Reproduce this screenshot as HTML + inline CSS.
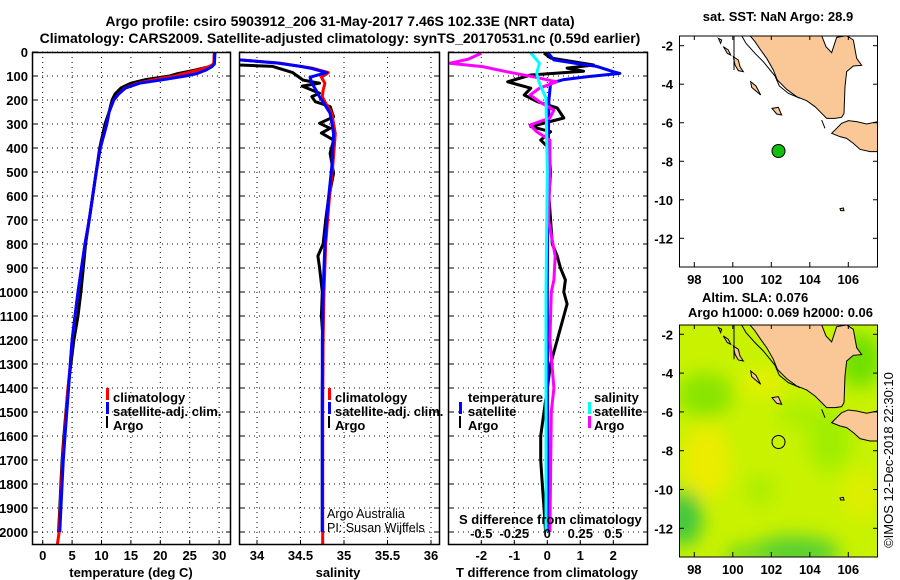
<!DOCTYPE html>
<html><head><meta charset="utf-8">
<style>
html,body{margin:0;padding:0;background:#fff;}
svg{display:block;font-family:"Liberation Sans",sans-serif;}
.b{font-weight:bold;font-size:13px;fill:#000;}
.t{font-weight:bold;font-size:14px;fill:#000;}
</style></head>
<body>
<svg id="chart" width="900" height="580" viewBox="0 0 900 580">
<defs>
<clipPath id="c1"><rect x="32" y="52" width="199" height="493"/></clipPath>
<clipPath id="c2"><rect x="239" y="52" width="201" height="493"/></clipPath>
<clipPath id="c3"><rect x="448" y="52" width="200" height="493"/></clipPath>
<clipPath id="cm1"><rect x="679" y="36" width="199" height="231"/></clipPath>
<clipPath id="cm2"><rect x="679" y="325" width="199" height="232"/></clipPath>
<filter id="blur" x="-50%" y="-50%" width="200%" height="200%"><feGaussianBlur stdDeviation="9"/></filter>
</defs>
<text class="t" x="340" y="26" text-anchor="middle">Argo profile: csiro 5903912_206 31-May-2017 7.46S 102.33E (NRT data)</text>
<text class="t" x="340" y="43" text-anchor="middle">Climatology: CARS2009. Satellite-adjusted climatology: synTS_20170531.nc (0.59d earlier)</text>
<g id="grid"></g>
<g id="series"></g>
<g id="axes"></g>

<g>
<rect x="106" y="388" width="3" height="12" fill="#f00"/><text class="b" x="113" y="402">climatology</text>
<rect x="106" y="402" width="3" height="12" fill="#00f"/><text class="b" x="113" y="416">satellite-adj. clim.</text>
<rect x="106" y="416" width="2" height="12" fill="#000"/><text class="b" x="113" y="430">Argo</text>
</g>
<g>
<rect x="328" y="388" width="3" height="12" fill="#f00"/><text class="b" x="335" y="402">climatology</text>
<rect x="328" y="402" width="3" height="12" fill="#00f"/><text class="b" x="335" y="416">satellite-adj. clim.</text>
<rect x="328" y="416" width="2" height="12" fill="#000"/><text class="b" x="335" y="430">Argo</text>
<text x="327" y="518" font-size="12.5">Argo Australia</text>
<text x="327" y="532" font-size="12.5">PI: Susan Wijffels</text>
</g>
<g>
<text class="b" x="468" y="402">temperature</text>
<rect x="459" y="402" width="3" height="12" fill="#00f"/><text class="b" x="468" y="416">satellite</text>
<rect x="459" y="416" width="2" height="12" fill="#000"/><text class="b" x="468" y="430">Argo</text>
<text class="b" x="594" y="402">salinity</text>
<rect x="588" y="402" width="3" height="12" fill="#0ff"/><text class="b" x="594" y="416">satellite</text>
<rect x="588" y="416" width="3" height="12" fill="#f0f"/><text class="b" x="594" y="430">Argo</text>
<text class="b" x="459" y="524">S difference from climatology</text>
</g>

<text class="b" x="131" y="577" text-anchor="middle">temperature (deg C)</text>
<text class="b" x="338" y="577" text-anchor="middle">salinity</text>
<text class="b" x="547" y="577" text-anchor="middle">T difference from climatology</text>

<text class="b" x="778" y="21" text-anchor="middle">sat. SST: NaN Argo: 28.9</text>
<g clip-path="url(#cm1)">
<rect x="679" y="36" width="199" height="231" fill="#fff"/>
<g transform="translate(640,0) scale(0.33333)" id="landTop"></g>
</g>
<circle cx="778.5" cy="151" r="6.5" fill="#10c010" stroke="#000" stroke-width="1"/>
<rect x="679.5" y="36" width="198" height="231" fill="none" stroke="#000"/>

<text class="b" x="702" y="302">Altim. SLA: 0.076</text>
<text class="b" x="688" y="317">Argo h1000: 0.069 h2000: 0.06</text>
<g clip-path="url(#cm2)">
<rect x="679" y="325" width="199" height="232" fill="#c8f200"/>
<g filter="url(#blur)">
<ellipse cx="705" cy="395" rx="28" ry="22" fill="#88e400"/>
<ellipse cx="706" cy="462" rx="24" ry="38" fill="#ecec00"/>
<ellipse cx="684" cy="518" rx="18" ry="28" fill="#40c840"/>
<ellipse cx="795" cy="552" rx="45" ry="16" fill="#58d030"/>
<ellipse cx="745" cy="555" rx="20" ry="10" fill="#70d820"/>
<ellipse cx="830" cy="440" rx="22" ry="32" fill="#a0ee00"/>
<ellipse cx="763" cy="383" rx="22" ry="14" fill="#e4f000"/>
<ellipse cx="860" cy="360" rx="22" ry="28" fill="#70e000"/>
<ellipse cx="760" cy="490" rx="14" ry="14" fill="#a8ee00"/>
<ellipse cx="860" cy="495" rx="16" ry="25" fill="#e0ee00"/>
<ellipse cx="800" cy="415" rx="22" ry="12" fill="#a8ee00"/>
</g>
<g transform="translate(640,289.3) scale(0.33333)" id="landBot"></g>
</g>
<circle cx="778.5" cy="442" r="6.5" fill="none" stroke="#000" stroke-width="1"/>
<rect x="679.5" y="325" width="198" height="232" fill="none" stroke="#000"/>
<g id="mapaxes"></g>
<text x="893" y="460" font-size="13" text-anchor="middle" transform="rotate(-90 893 460)">©IMOS 12-Dec-2018 22:30:10</text>
</svg>
<script>
const depthTicks = [0,100,200,300,400,500,600,700,800,900,1000,1100,1200,1300,1400,1500,1600,1700,1800,1900,2000];
const tempTicks = [0,5,10,15,20,25,30];
const salTicks = [34,34.5,35,35.5,36];
const salTickLabels = ["34","34.5","35","35.5","36"];
const tdiffTicks = [-2,-1,0,1,2];
const sdiffTicks = [-0.5,-0.25,0,0.25,0.5];
const sdiffTickLabels = ["-0.5","-0.25","0","0.25","0.5"];

const climTDepth = [0,50,61,75,90,100,115,130,150,175,200,250,300,400,500,600,700,800,900,1000,1100,1200,1300,1400,1500,1600,1700,1800,1900,2000,2050];
const climT = [29.2,29.1,28.3,26.5,24,22.5,19,16.2,14,12.9,12.1,11.3,10.9,9.8,9.1,8.5,7.9,7.2,6.6,6.0,5.5,5.0,4.7,4.3,4.0,3.7,3.4,3.2,3.0,2.8,2.5];
const satTDepth = [0,50,61,75,90,100,115,130,150,175,200,250,300,400,500,600,700,800,900,1000,1100,1200,1300,1400,1500,1600,1700,1800,1900,2000];
const satT = [29.3,29.2,28.8,27.8,26.2,24.3,20.5,16.5,14.1,12.9,12.1,11.3,10.9,9.8,9.1,8.5,7.9,7.2,6.6,6.0,5.5,5.0,4.7,4.4,4.1,3.8,3.5,3.3,3.1,2.9];
const argoTDepth = [0,50,61,75,90,100,115,130,150,175,200,250,300,400,500,600,700,800,900,1000,1100,1200,1300,1400,1500,1600,1700,1800,1900,2000];
const argoT = [29.2,29.1,28.4,26.0,23,21.6,17.5,15.0,13.3,12.3,11.8,11.3,10.6,9.7,9.1,8.5,7.9,7.3,6.9,6.5,6.0,5.3,4.8,4.3,3.95,3.6,3.3,3.1,2.9,2.7];

const climSDepth = [0,33,46,60,67,86,105,130,160,187,220,255,340,478,617,800,1000,1200,1500,2000,2050];
const climS = [33.7,33.8,34.25,34.5,34.63,34.82,34.74,34.78,34.76,34.75,34.8,34.86,34.9,34.87,34.83,34.79,34.77,34.76,34.755,34.755,34.755];
const satSDepth = [0,33,46,60,67,86,105,130,160,187,220,255,340,478,617,800,1000,1200,1500,2000];
const satS = [33.7,33.8,34.23,34.5,34.61,34.8,34.61,34.63,34.68,34.72,34.78,34.84,34.88,34.86,34.82,34.78,34.76,34.75,34.75,34.75];
const argoSDepth = [46,54,60,86,117,130,142,172,186,207,227,270,297,318,338,367,422,505,617,700,800,850,900,1000,1100,1200,1400,1600,1800,2000];
const argoS = [33.7,33.8,34.18,34.41,34.53,34.72,34.52,34.72,34.63,34.67,34.84,34.88,34.72,34.84,34.74,34.88,34.84,34.88,34.82,34.79,34.76,34.7,34.72,34.75,34.74,34.76,34.75,34.75,34.75,34.75];

const satTDiffDepth = [0,33,46,60,82,89,103,115,130,200,500,1000,2000];
const satTDiff = [0,0.2,0.8,1.5,2.0,2.2,1.2,0.5,0.1,0.05,0.02,0.0,0.02];
const argoTDiffDepth = [4,25,54,67,80,96,124,151,179,207,233,275,311,332,367,400,500,600,700,800,850,900,950,1000,1050,1100,1200,1300,1400,1500,1600,1700,1800,1900,2000];
const argoTDiff = [-0.1,0.1,1.4,0.6,1.1,-0.5,-1.2,-0.5,-0.7,-0.3,0.3,0.5,-0.5,0.1,-0.2,0.05,0.1,0.05,0.1,0.15,0.3,0.4,0.55,0.5,0.6,0.5,0.3,0.1,0.0,-0.1,-0.2,-0.2,-0.15,-0.1,-0.05];
const argoSDiffDepth = [5,30,47,61,82,103,124,151,179,207,242,275,304,332,367,500,700,850,950,1000,1200,1400,1500,2000];
const argoSDiff = [-0.5,-0.6,-0.74,-0.49,-0.31,-0.11,0.07,-0.06,-0.13,-0.06,0.05,0.02,-0.13,-0.08,0.02,0.02,0.01,0.06,0.05,0.03,0.02,0.05,0.03,0.02];
const satSDiffDepth = [0,47,89,130,193,500,1000,2000];
const satSDiff = [-0.13,-0.06,-0.08,-0.06,-0.01,0,-0.01,-0.01];

const mapLonTicks = [98,100,102,104,106];
const mapLatTicks = [-2,-4,-6,-8,-10,-12];

const yD = d => 52 + d*0.24;
const xT = t => 42.7 + t*5.88;
const xS = s => 257 + (s-34)*87;
const xTd = v => 547.3 + v*33;
const xSd = v => 547.3 + v*132;
const mx = lon => 694.3 + (lon-98)*19.25;
const myTop = lat => 45.7 + (-2-lat)*19.26;
const myBot = lat => 334.3 + (-2-lat)*19.4;

const NS = "http://www.w3.org/2000/svg";
function mk(tag, attrs, parent){ const e=document.createElementNS(NS,tag); for(const k in attrs) e.setAttribute(k,attrs[k]); parent.appendChild(e); return e; }

const grid = document.getElementById('grid');
const axes = document.getElementById('axes');
const series = document.getElementById('series');
const panels = [[32,231],[239,440],[448,648]];

panels.forEach(([l,r])=>{
  depthTicks.forEach(d=>{
    const g = mk('line',{x1:l,x2:r,y1:yD(d),y2:yD(d),stroke:'#000','stroke-width':1,'stroke-dasharray':'1 4'},grid);
    
    
  });
});
function vgrid(vals, f){ vals.forEach(v=>{ const g=mk('line',{x1:f(v),x2:f(v),y1:52,y2:545,stroke:'#000','stroke-width':1,'stroke-dasharray':'1 4'},grid);
  
   }); }
vgrid(tempTicks,xT); vgrid(salTicks.filter(s=>xS(s)<440),xS); vgrid(tdiffTicks,xTd);

function line(depths, vals, f, color, clip, name, w){
  let d='';
  depths.forEach((dp,i)=>{ d += (i?'L':'M') + f(vals[i]).toFixed(1)+','+yD(dp).toFixed(1); });
  const p = mk('path',{d:d,fill:'none',stroke:color,'stroke-width':w||3,'stroke-linejoin':'round','clip-path':'url(#'+clip+')'},series);
  
  
}
line(argoTDepth,argoT,xT,'#000','c1','argo-temperature-line');
line(climTDepth,climT,xT,'#f00','c1','climatology-temperature-line');
line(satTDepth,satT,xT,'#00f','c1','satellite-temperature-line');
line(argoSDepth,argoS,xS,'#000','c2','argo-salinity-line');
line(climSDepth,climS,xS,'#f00','c2','climatology-salinity-line');
line(satSDepth,satS,xS,'#00f','c2','satellite-salinity-line');
line(argoTDiffDepth,argoTDiff,xTd,'#000','c3','argo-temperature-diff-line');
line(satTDiffDepth,satTDiff,xTd,'#00f','c3','satellite-temperature-diff-line');
line(argoSDiffDepth,argoSDiff,xSd,'#f0f','c3','argo-salinity-diff-line');
line(satSDiffDepth,satSDiff,xSd,'#0ff','c3','satellite-salinity-diff-line');

panels.forEach(([l,r],i)=>{
  const f = mk('rect',{x:l+0.5,y:52.5,width:r-l-1,height:492,fill:'none',stroke:'#000','stroke-width':1.5},axes);
  
  
  depthTicks.forEach(d=>{
    mk('line',{x1:l,x2:l+5,y1:yD(d),y2:yD(d),stroke:'#000'},axes);
    mk('line',{x1:r-5,x2:r,y1:yD(d),y2:yD(d),stroke:'#000'},axes);
  });
});
depthTicks.forEach(d=>{
  const t = mk('text',{x:28,y:yD(d)+5,'text-anchor':'end',class:'b'},axes);
  t.textContent = d;
  
  
});
function xlabels(vals, labels, f, y, name){
  vals.forEach((v,i)=>{
    mk('line',{x1:f(v),x2:f(v),y1:540,y2:545,stroke:'#000'},axes);
    const t = mk('text',{x:f(v),y:y,'text-anchor':'middle',class:'b'},axes);
    t.textContent = labels[i];
    
    
  });
}
xlabels(tempTicks,tempTicks.map(String),xT,560,'temperature-tick-label');
xlabels(salTicks,salTickLabels,xS,560,'salinity-tick-label');
xlabels(tdiffTicks,tdiffTicks.map(String),xTd,560,'t-diff-tick-label');
sdiffTicks.forEach((v,i)=>{
  const t = mk('text',{x:xSd(v),y:538,'text-anchor':'middle',class:'b'},axes);
  t.textContent = sdiffTickLabels[i];
  
  
});

const sumatra = "M330,107 L345,125 L362,150 L380,175 L400,210 L412,240 L440,268 L470,290 L500,302 L525,320 L545,340 L560,355 L585,355 L605,352 L612,340 L615,260 L620,215 L640,198 L665,196 L650,175 L640,120 L620,107 L590,112 L575,158 L558,140 L545,107 Z";
const java = "M575,400 L590,385 L605,370 L625,362 L650,365 L680,372 L713,365 L713,455 L690,455 L660,448 L640,430 L620,415 L600,410 Z";
const islands = ["M250,140 L265,150 L272,165 L262,160 Z","M280,170 L295,180 L300,200 L310,215 L295,212 L285,195 Z","M332,245 L348,258 L362,285 L350,275 L335,262 Z","M396,325 L415,322 L425,345 L410,342 Z","M600,626 L610,624 L612,632 L602,632 Z","M235,115 L245,120 L242,130 Z"];
const isobath = "M305,107 L318,130 L345,160 L370,185 L405,228 L418,258 L445,280 L480,295 M282,107 L282,210 M545,360 L555,385";
['landTop','landBot'].forEach(id=>{
  const g = document.getElementById(id);
  const s = mk('path',{d:sumatra,fill:'#fac896',stroke:'#000','stroke-width':3},g);
  
  
  const j = mk('path',{d:java,fill:'#fac896',stroke:'#000','stroke-width':3},g);
  
  
  islands.forEach(p=>{ const e=mk('path',{d:p,fill:'#fac896',stroke:'#000','stroke-width':3},g);
    
     });
  const iso = mk('path',{d:isobath,fill:'none',stroke:'#000','stroke-width':3},g);
  
  
});

const mapaxes = document.getElementById('mapaxes');
[[myTop,36,267,284],[myBot,325,557,574]].forEach(([fy,top,bot,ly])=>{
  mapLatTicks.forEach(v=>{
    const y=fy(v);
    mk('line',{x1:679,x2:684,y1:y,y2:y,stroke:'#000'},mapaxes);
    mk('line',{x1:873,x2:878,y1:y,y2:y,stroke:'#000'},mapaxes);
    const t=mk('text',{x:673,y:y+5,'text-anchor':'end',class:'b'},mapaxes);
    t.textContent=String(v);
    
    
  });
  mapLonTicks.forEach(v=>{
    const x=mx(v);
    mk('line',{x1:x,x2:x,y1:bot-5,y2:bot,stroke:'#000'},mapaxes);
    mk('line',{x1:x,x2:x,y1:top,y2:top+4,stroke:'#000'},mapaxes);
    const t=mk('text',{x:x,y:ly,'text-anchor':'middle',class:'b'},mapaxes);
    t.textContent=v;
    
    
  });
});
</script>
</body></html>
